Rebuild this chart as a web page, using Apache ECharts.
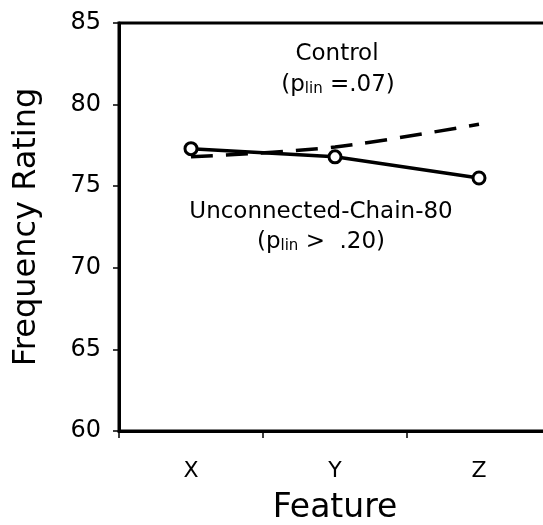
<!DOCTYPE html>
<html>
<head>
<meta charset="utf-8">
<script src="https://cdn.jsdelivr.net/npm/echarts@6/dist/echarts.min.js"></script>
<style>
  html, body { margin: 0; padding: 0; background: #fff; }
  #main { width: 543px; height: 525px; }
</style>
</head>
<body>
<div id="main"></div>
<script>
var features = ['X', 'Y', 'Z'];
var unconnected = [77.3, 76.8, 75.5];
var control = [76.8, 77.4, 78.8];
var yTicks = [60, 65, 70, 75, 80, 85];

var font = 'DejaVu Sans, Verdana, sans-serif';
var myChart = echarts.init(document.getElementById('main'));

// p with "lin" subscript
var subRich = {
    s: {font: '23px ' + font, fill: '#000'},
    sub: {font: '15px ' + font, fill: '#000', padding: [9, 0, 0, 0]}
};

var option = {
    backgroundColor: '#fff',
    animation: false,
    grid: {
        left: 119,
        top: 23,
        bottom: 94,
        width: 432,
        outerBoundsMode: 'none',
        containLabel: false,
        show: true,
        borderColor: '#000',
        borderWidth: 3
    },
    xAxis: {
        type: 'category',
        data: features,
        name: 'Feature',
        nameLocation: 'middle',
        nameGap: 61,
        nameTextStyle: {fontFamily: font, fontSize: 33, color: '#000'},
        axisLine: {lineStyle: {color: '#000', width: 3}},
        axisTick: {show: true, length: 7, lineStyle: {color: '#000', width: 1.5}},
        axisLabel: {margin: 29, fontFamily: font, fontSize: 22, color: '#000'},
        splitLine: {show: false}
    },
    yAxis: {
        type: 'value',
        min: yTicks[0],
        max: yTicks[yTicks.length - 1],
        interval: 5,
        name: 'Frequency Rating',
        nameLocation: 'middle',
        nameGap: 76,
        nameTextStyle: {fontFamily: font, fontSize: 32, color: '#000'},
        axisLine: {show: true, lineStyle: {color: '#000', width: 3}},
        axisTick: {show: true, length: 6, lineStyle: {color: '#000', width: 1.5}},
        axisLabel: {margin: 18, fontFamily: font, fontSize: 24, color: '#000'},
        splitLine: {show: false}
    },
    graphic: [
        {
            type: 'text', x: 337, y: 54,
            style: {text: 'Control', font: '23px ' + font, fill: '#000', align: 'center', verticalAlign: 'middle'}
        },
        {
            type: 'text', x: 338, y: 85,
            style: {text: '({s|p}{sub|lin} =.07)', font: '23px ' + font, fill: '#000',
                align: 'center', verticalAlign: 'middle', rich: subRich}
        },
        {
            type: 'text', x: 321, y: 212,
            style: {text: 'Unconnected-Chain-80', font: '23px ' + font, fill: '#000', align: 'center', verticalAlign: 'middle'}
        },
        {
            type: 'text', x: 321, y: 242,
            style: {text: '({s|p}{sub|lin} >  .20)', font: '23px ' + font, fill: '#000',
                align: 'center', verticalAlign: 'middle', rich: subRich}
        }
    ],
    series: [
        {
            name: 'Control',
            type: 'line',
            data: control,
            smooth: 0.3,
            symbol: 'none',
            lineStyle: {color: '#000', width: 3.5, type: [22, 13]}
        },
        {
            name: 'Unconnected-Chain-80',
            type: 'line',
            data: unconnected,
            symbol: 'circle',
            symbolSize: 12,
            itemStyle: {color: '#fff', borderColor: '#000', borderWidth: 3},
            lineStyle: {color: '#000', width: 3.5}
        }
    ]
};

myChart.setOption(option);
</script>
</body>
</html>
